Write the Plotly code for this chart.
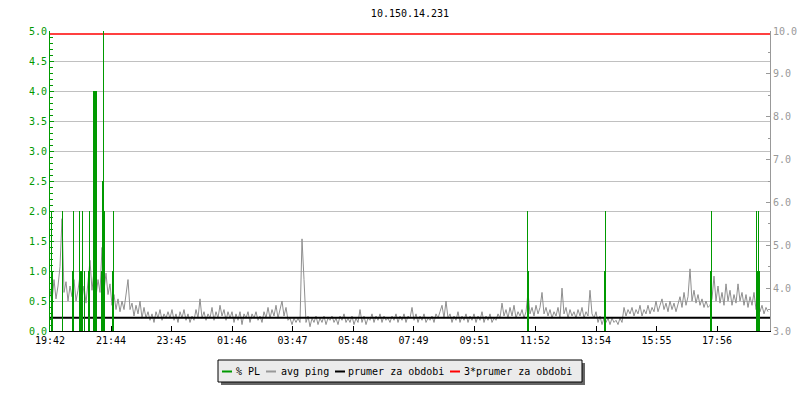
import plotly.graph_objects as go

# ---------------- data ----------------
title_text = "10.150.14.231"
start_label = "19:42"
tick_labels = ["19:42", "21:44", "23:45", "01:46", "03:47", "05:48",
               "07:49", "09:51", "11:52", "13:54", "15:55", "17:56"]
period_minutes = 1440
ping_step_minutes = 4  # one avg-ping sample every 4 minutes

# avg ping [ms] (right axis), one value per sample, 30 per row (= 2 hours)
avg_ping = [
    3.95, 3.7, 4.2, 3.75, 4.05, 4.5, 5.62, 3.9, 4.15, 3.7, 4.05, 3.8, 4.2, 3.7, 3.95,
    4.3, 3.75, 4.05, 3.65, 4.2, 4.65, 3.95, 4.4, 3.8, 4.2, 3.9, 4.95, 3.95, 4.35, 3.85,
    4.1, 3.6, 3.85, 3.5, 3.75, 3.45, 3.7, 3.5, 3.8, 4.2, 3.5, 3.65, 3.35, 3.6, 3.4,
    3.7, 3.3, 3.55, 3.3, 3.45, 3.25, 3.4, 3.2, 3.45, 3.3, 3.5, 3.25, 3.4, 3.3, 3.45,
    3.3, 3.5, 3.25, 3.4, 3.2, 3.45, 3.3, 3.5, 3.25, 3.4, 3.2, 3.35, 3.25, 3.5, 3.3,
    3.75, 3.3, 3.45, 3.25, 3.4, 3.3, 3.55, 3.25, 3.45, 3.3, 3.6, 3.35, 3.5, 3.25, 3.45,
    3.3, 3.45, 3.2, 3.4, 3.25, 3.45, 3.15, 3.4, 3.3, 3.45, 3.2, 3.4, 3.3, 3.45, 3.25,
    3.35, 3.2, 3.45, 3.3, 3.55, 3.3, 3.5, 3.35, 3.6, 3.3, 3.5, 3.7, 3.35, 3.55, 3.25,
    3.3, 3.15, 3.3, 3.2, 3.3, 3.2, 5.15, 4.2, 3.2, 3.35, 3.1, 3.3, 3.2, 3.35, 3.15,
    3.3, 3.2, 3.35, 3.15, 3.3, 3.25, 3.35, 3.2, 3.3, 3.15, 3.35, 3.25, 3.4, 3.2, 3.3,
    3.2, 3.35, 3.15, 3.3, 3.2, 3.5, 3.2, 3.35, 3.15, 3.3, 3.25, 3.4, 3.2, 3.35, 3.25,
    3.4, 3.2, 3.35, 3.25, 3.3, 3.2, 3.35, 3.25, 3.4, 3.2, 3.35, 3.25, 3.4, 3.2, 3.35,
    3.3, 3.55, 3.25, 3.4, 3.2, 3.35, 3.25, 3.4, 3.2, 3.3, 3.25, 3.35, 3.2, 3.4, 3.3,
    3.45, 3.6, 3.3, 3.7, 3.3, 3.4, 3.2, 3.35, 3.25, 3.45, 3.2, 3.35, 3.25, 3.4, 3.2,
    3.35, 3.25, 3.4, 3.2, 3.35, 3.25, 3.45, 3.2, 3.35, 3.25, 3.4, 3.2, 3.3, 3.25, 3.4,
    3.3, 3.65, 3.35, 3.5, 3.3, 3.55, 3.35, 3.6, 3.3, 3.45, 3.35, 3.5, 3.3, 3.45, 3.9,
    3.4, 3.55, 3.35, 3.6, 3.4, 3.55, 3.9, 3.4, 3.55, 3.35, 3.5, 3.3, 3.45, 3.35, 3.55,
    3.3, 4.0, 3.4, 3.55, 3.3, 3.5, 3.35, 3.45, 3.3, 3.5, 3.35, 3.55, 3.3, 3.45, 3.35,
    3.95, 3.4, 3.3, 3.45, 3.2, 3.35, 3.15, 3.3, 3.2, 3.3, 3.15, 3.3, 3.2, 3.25, 3.15,
    3.3, 3.2, 3.55, 3.35, 3.5, 3.4, 3.55, 3.35, 3.5, 3.4, 3.6, 3.35, 3.5, 3.4, 3.6,
    3.4, 3.55, 3.45, 3.7, 3.45, 3.6, 3.75, 3.5, 3.65, 3.45, 3.7, 3.5, 3.65, 3.45, 3.6,
    3.8, 3.55, 3.9, 3.6, 3.8, 4.45, 3.7, 3.95, 3.65, 3.85, 3.6, 3.75, 3.55, 3.7, 3.55,
    3.6, 3.75, 4.28, 3.7, 4.05, 3.65, 3.9, 3.6, 4.1, 3.7, 3.95, 3.6, 3.85, 3.65, 4.1,
    3.7, 3.9, 3.6, 3.85, 3.55, 3.8, 3.6, 3.9, 3.5, 3.7, 3.45, 3.6, 3.4, 3.55, 3.45,
]

# packet loss [%] (left axis): minutes after start and value
pl_minutes = [3, 5, 25, 45, 47, 59, 61, 63, 65, 69, 77, 79, 87, 89, 91, 93,
              103, 105, 107, 109, 125, 127, 955, 957, 1109, 1111, 1321, 1323,
              1413, 1415, 1417, 1419]
pl_values = [2.0, 1.0, 2.0, 1.0, 2.0, 2.0, 1.0, 1.0, 2.0, 1.0, 1.0, 2.0, 4.0, 4.0, 4.0, 4.0,
             1.0, 2.5, 5.0, 2.0, 1.0, 2.0, 2.0, 1.0, 1.0, 2.0, 1.0, 2.0,
             2.0, 1.0, 2.0, 1.0]

mean_ping = 3.31
triple_mean_ping = 3 * mean_ping

series_names = ["% PL", "avg ping", "prumer za obdobi", "3*prumer za obdobi"]
series_colors = ["#009900", "#999999", "#000000", "#ff0000"]

# ---------------- helpers ----------------
def minutes_after_start(label):
    h, m = map(int, label.split(":"))
    sh, sm = map(int, start_label.split(":"))
    return (h * 60 + m - (sh * 60 + sm)) % period_minutes

tick_vals = [minutes_after_start(t) for t in tick_labels]
ping_minutes = [i * ping_step_minutes for i in range(len(avg_ping))]

W, H = 800, 400
L, R, T, B = 50, 30, 31, 69
PW, PH = W - L - R, H - T - B

def px(xp):
    return (xp - L) / PW

def py(yp):
    return (H - B - yp) / PH

FONT = "DejaVu Sans Mono"

# ---------------- figure ----------------
fig = go.Figure()

fig.add_trace(go.Scatter(
    x=ping_minutes, y=avg_ping, mode="lines", name=series_names[1],
    line=dict(color="#8f8f8f", width=1), yaxis="y", showlegend=False))

fig.add_trace(go.Scatter(
    x=[0, period_minutes], y=[mean_ping, mean_ping], mode="lines", name=series_names[2],
    line=dict(color=series_colors[2], width=2), yaxis="y", showlegend=False))

fig.add_trace(go.Scatter(
    x=[0, period_minutes], y=[triple_mean_ping, triple_mean_ping], mode="lines",
    name=series_names[3], line=dict(color=series_colors[3], width=1.5), yaxis="y",
    showlegend=False))

fig.add_trace(go.Bar(
    x=pl_minutes, y=pl_values, width=2, name=series_names[0],
    marker=dict(color=series_colors[0], line=dict(width=0)), yaxis="y2",
    showlegend=False))

fig.update_layout(
    template="none",
    width=W, height=H,
    margin=dict(l=L, r=R, t=T, b=B, pad=0, autoexpand=False),
    paper_bgcolor="white", plot_bgcolor="white",
    font=dict(family=FONT, size=10, color="black"),
    title=dict(text=title_text, x=0.5, xref="paper", xanchor="center",
               y=1 - 13 / H, yref="container", yanchor="middle",
               font=dict(family=FONT, size=10, color="black"), automargin=False),
    showlegend=False,
    bargap=0,
    xaxis=dict(range=[0, period_minutes], tickvals=tick_vals, ticktext=tick_labels,
               ticks="inside", ticklen=5, tickcolor="black", tickwidth=1,
               showline=True, linecolor="black", linewidth=1, automargin=False,
               showgrid=False, zeroline=False,
               tickfont=dict(family=FONT, size=10, color="black")),
    yaxis=dict(side="right", range=[3, 10], dtick=1, tick0=3, tickformat=".1f",
               ticks="inside", ticklen=4, tickcolor="#999999", automargin=False,
               minor=dict(dtick=0.5, ticks="inside", ticklen=2.5, tickcolor="#999999",
                          showgrid=False),
               showline=True, linecolor="#999999", linewidth=1,
               showgrid=False, zeroline=False,
               tickfont=dict(family=FONT, size=10, color="#999999")),
    yaxis2=dict(side="left", overlaying="y", range=[0, 5], dtick=0.5, tick0=0,
                tickformat=".1f", automargin=False,
                ticks="inside", ticklen=4, tickcolor="#009900",
                minor=dict(dtick=0.1, ticks="inside", ticklen=2.5, tickcolor="#009900",
                           showgrid=False),
                showline=True, linecolor="#009900", linewidth=1,
                showgrid=True, gridcolor="#c0c0c0", gridwidth=1, zeroline=False,
                tickfont=dict(family=FONT, size=10, color="#009900")),
)

# ---------------- custom legend (box with shadow) ----------------
box_l, box_t, box_r, box_b = 218, 360, 582, 382
shapes = [
    dict(type="rect", xref="paper", yref="paper",
         x0=px(box_l + 3), x1=px(box_r + 3), y0=py(box_b + 3), y1=py(box_t + 3),
         fillcolor="#666666", line=dict(width=0)),
    dict(type="rect", xref="paper", yref="paper",
         x0=px(box_l), x1=px(box_r), y0=py(box_b), y1=py(box_t),
         fillcolor="#ebebeb", line=dict(color="black", width=1)),
]
item_line_x = [222, 266, 335, 450]
item_text_x = [235, 280, 347, 463]
item_y = 371.5
annotations = []
for name, color, lx, tx in zip(series_names, series_colors, item_line_x, item_text_x):
    shapes.append(dict(type="line", xref="paper", yref="paper",
                       x0=px(lx), x1=px(lx + 10), y0=py(item_y), y1=py(item_y),
                       line=dict(color=color, width=2)))
    annotations.append(dict(text=name, xref="paper", yref="paper",
                            x=px(tx), y=py(item_y - 0.5), xanchor="left", yanchor="middle",
                            showarrow=False, borderpad=0,
                            font=dict(family=FONT, size=10, color="black")))
fig.update_layout(shapes=shapes, annotations=annotations)

fig.write_html("out.html", config={"displayModeBar": False},
               post_script="document.body.style.margin='0';document.body.style.overflow='hidden';")
